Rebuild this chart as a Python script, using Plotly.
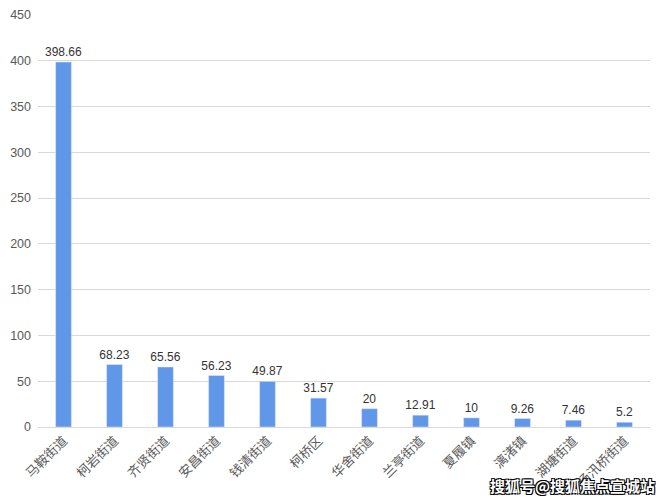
import plotly.graph_objects as go

# 各街道数值
areas = ["马鞍街道", "柯岩街道", "齐贤街道", "安昌街道", "钱清街道", "柯桥区",
         "华舍街道", "兰亭街道", "夏履镇", "漓渚镇", "湖塘街道", "杨汛桥街道"]
values = [398.66, 68.23, 65.56, 56.23, 49.87, 31.57, 20, 12.91, 10, 9.26, 7.46, 5.2]
y_ticks = [0, 50, 100, 150, 200, 250, 300, 350, 400, 450]

font_family = "'Liberation Sans', Arial, 'Noto Sans CJK SC', sans-serif"

fig = go.Figure(go.Bar(
    x=areas,
    y=values,
    marker_color="#6197e8",
    width=0.31,
    text=[f"{v:g}" for v in values],
    textposition="outside",
    constraintext="none",
    textfont=dict(size=12, color="#333333", family=font_family),
    cliponaxis=False,
))

# 页面自带 8px 边距，这里把图缩小一点
fig.update_layout(
    width=659,
    height=492,
    margin=dict(l=30, r=17, t=7, b=73),
    plot_bgcolor="white",
    paper_bgcolor="white",
    showlegend=False,
    font=dict(family=font_family, color="#595959", size=12),
    xaxis=dict(
        tickangle=-45,
        showline=True,
        linecolor="#d9d9d9",
        automargin=False,
        tickfont=dict(size=13, color="#595959",
                      family="'Noto Sans CJK SC', sans-serif"),
    ),
    yaxis=dict(
        range=[0, 450],
        tickvals=y_ticks,
        gridcolor="#d9d9d9",
        zeroline=False,
        ticks="",
        automargin=False,
        ticklabeloverflow="allow",
        ticklabelstandoff=6,
        tickfont=dict(size=12.5, color="#595959"),
    ),
)

# 水印
fig.add_annotation(
    text="搜狐号@搜狐焦点宣城站",
    xref="paper", yref="paper",
    x=1.012, y=-0.141,
    xanchor="right", yanchor="middle",
    showarrow=False,
    font=dict(size=15, color="white", family="'Noto Sans CJK SC'",
              weight="bold",
              shadow="1px 1px 0 #000, -1px -1px 0 #000, 1px -1px 0 #000, -1px 1px 0 #000"),
)

fig.write_html("out.html")
